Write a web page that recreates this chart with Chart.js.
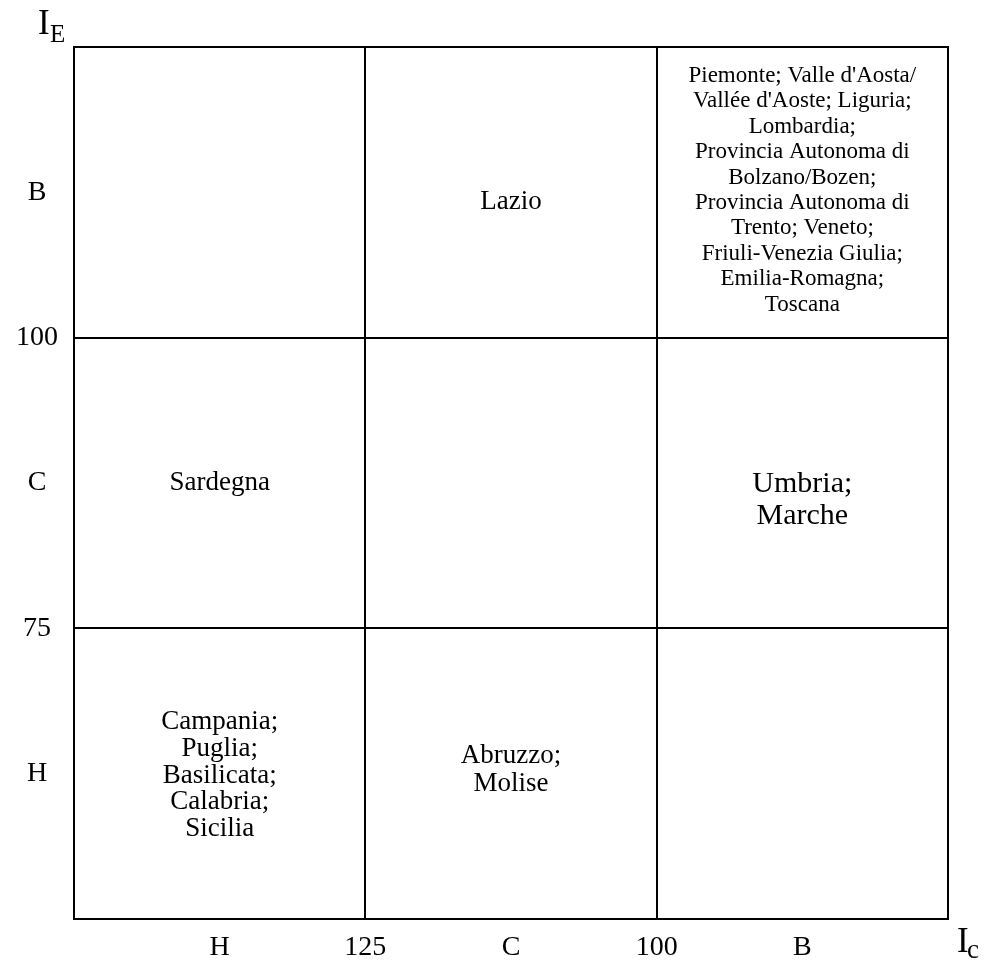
<!DOCTYPE html>
<html>
<head>
<meta charset="utf-8">
<script src="https://cdn.jsdelivr.net/npm/chart.js@4.4.1/dist/chart.umd.min.js"></script>
<style>
  body { margin: 0; background: #fff; }
  #wrap { width: 984px; height: 968px; }
</style>
</head>
<body>
<div id="wrap"><canvas id="matrix" width="984" height="968"></canvas></div>
<script>
// tick positions (cell units) and their labels
const xTickValues = [0.5, 1, 1.5, 2, 2.5];
const xTickLabels = ['H', '125', 'C', '100', 'B'];
const yTickValues = [0.5, 1, 1.5, 2, 2.5];
const yTickLabels = ['H', '75', 'C', '100', 'B'];
const gridValues = [0, 1, 2, 3];

// cells: column / row (0 = left / bottom) and region names
const cellCols = [1, 2, 0, 2, 0, 1];
const cellRows = [2, 2, 1, 1, 0, 0];
const cellLines = [
    ['Lazio'],
    ['Piemonte; Valle d\'Aosta/', 'Vallée d\'Aoste; Liguria;', 'Lombardia;', 'Provincia Autonoma di',
     'Bolzano/Bozen;', 'Provincia Autonoma di', 'Trento; Veneto;', 'Friuli-Venezia Giulia;',
     'Emilia-Romagna;', 'Toscana'],
    ['Sardegna'],
    ['Umbria;', 'Marche'],
    ['Campania;', 'Puglia;', 'Basilicata;', 'Calabria;', 'Sicilia'],
    ['Abruzzo;', 'Molise']
];

// text style per cell (size, line height, vertical shift)
const cellStyle = [
    { size: 27, lh: 27, dy: 10 },
    { size: 23, lh: 25.4, dy: -2 },
    { size: 27, lh: 27, dy: 0 },
    { size: 30, lh: 32, dy: 17 },
    { size: 27, lh: 26.7, dy: 2 },
    { size: 27, lh: 28, dy: -4 }
];

const FONT = '"Liberation Serif", "DejaVu Serif", serif';

const cellText = {
    id: 'cellText',
    afterDraw(chart) {
        const { ctx, scales: { x, y } } = chart;
        ctx.save();
        ctx.fillStyle = '#000';
        ctx.textAlign = 'center';
        ctx.textBaseline = 'middle';
        cellLines.forEach((lines, i) => {
            const st = cellStyle[i];
            const cx = x.getPixelForValue(cellCols[i] + 0.5);
            const cy = y.getPixelForValue(cellRows[i] + 0.5) + st.dy;
            ctx.font = st.size + 'px ' + FONT;
            const top = cy - (lines.length - 1) * st.lh / 2;
            lines.forEach((t, k) => ctx.fillText(t, cx, top + k * st.lh));
        });

        // axis names with subscripts
        ctx.textAlign = 'left';
        ctx.textBaseline = 'alphabetic';
        ctx.font = '35px ' + FONT;
        ctx.fillText('I', 38, 34);
        ctx.font = '25px ' + FONT;
        ctx.fillText('E', 50, 42);
        ctx.font = '35px ' + FONT;
        ctx.fillText('I', 957, 952);
        ctx.font = '27px ' + FONT;
        ctx.fillText('c', 967, 958);
        ctx.restore();
    }
};

const gridColor = c => gridValues.includes(c.tick.value) ? '#000' : 'rgba(0,0,0,0)';

new Chart(document.getElementById('matrix'), {
    type: 'scatter',
    data: { datasets: [{ data: [], showLine: false }] },
    options: {
        responsive: false,
        animation: false,
        layout: { padding: { top: 47, right: 36, left: 0, bottom: 0 } },
        plugins: { legend: { display: false }, tooltip: { enabled: false } },
        scales: {
            x: {
                type: 'linear', min: 0, max: 3,
                afterBuildTicks: s => { s.ticks = [0, ...xTickValues, 3].map(v => ({ value: v })); },
                afterFit: s => { s.height = 49; },
                border: { display: true, color: '#000', width: 2 },
                grid: { color: gridColor, lineWidth: 2, drawTicks: false },
                ticks: {
                    padding: 12,
                    color: '#000',
                    font: { family: FONT, size: 28 },
                    maxRotation: 0,
                    autoSkip: false,
                    callback: v => { const i = xTickValues.indexOf(v); return i < 0 ? '' : xTickLabels[i]; }
                }
            },
            y: {
                type: 'linear', min: 0, max: 3,
                afterBuildTicks: s => { s.ticks = [0, ...yTickValues, 3].map(v => ({ value: v })); },
                afterFit: s => { s.width = 74; },
                border: { display: true, color: '#000', width: 2 },
                grid: { color: gridColor, lineWidth: 2, drawTicks: false },
                ticks: {
                    padding: 16,
                    crossAlign: 'center',
                    color: '#000',
                    font: { family: FONT, size: 28 },
                    autoSkip: false,
                    callback: v => { const i = yTickValues.indexOf(v); return i < 0 ? '' : yTickLabels[i]; }
                }
            }
        }
    },
    plugins: [cellText, {
        id: 'frame',
        afterDraw(chart) {
            // right and top edges of the matrix
            const { ctx, chartArea: a } = chart;
            ctx.save();
            ctx.strokeStyle = '#000';
            ctx.lineWidth = 2;
            ctx.strokeRect(a.left, a.top, a.right - a.left, a.bottom - a.top);
            ctx.restore();
        }
    }]
});
</script>
</body>
</html>
